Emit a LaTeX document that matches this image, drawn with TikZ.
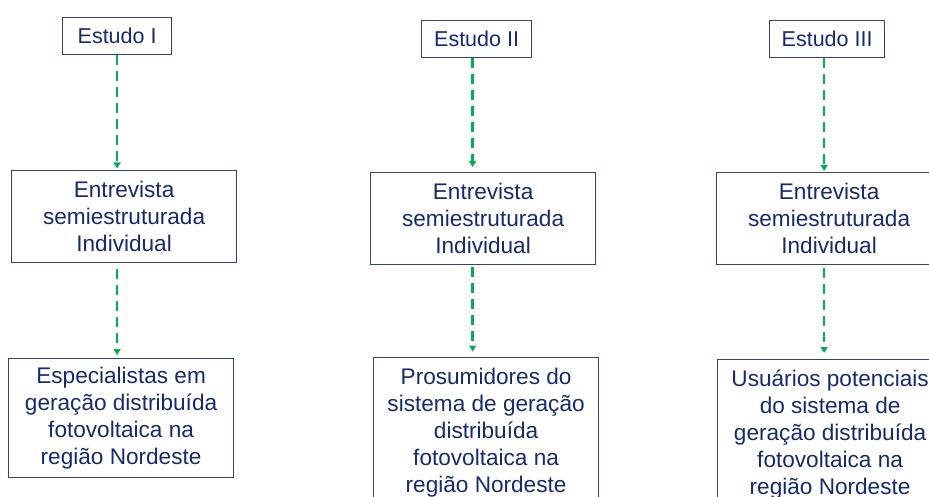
\documentclass[tikz,border=0pt]{standalone}
\usepackage{fontspec}
\setmainfont{Liberation Sans}
\usepackage{tikz}
\usetikzlibrary{arrows.meta}
\definecolor{azultexto}{RGB}{22,42,108}
\definecolor{azulborda}{RGB}{48,66,128}
\definecolor{verdeseta}{RGB}{0,176,80}

\begin{document}
\begin{tikzpicture}[x=1pt,y=-1pt,
    estudo/.style={draw=azulborda, line width=1.2pt, text=azultexto,
        anchor=north west, inner sep=0pt,
        font=\fontsize{21.5}{26}\selectfont},
    caixa/.style={draw=azulborda, line width=1.2pt, text=azultexto,
        anchor=north west, inner sep=0pt, align=center,
        minimum width=225pt, font=\fontsize{22.6}{27}\selectfont},
    seta/.style={verdeseta, line width=2.4pt, dash pattern=on 10pt off 6pt,
        -{Triangle[length=6pt,width=7pt]}}]
    \useasboundingbox (0,0) rectangle (929,497);
    \clip (0,0) rectangle (929,497);

    % estudos
    \node[estudo, minimum width=109pt, minimum height=37pt] (e1) at (62,17)  {Estudo I};
    \node[estudo, minimum width=110pt, minimum height=37pt] (e2) at (421,20) {Estudo II};
    \node[estudo, minimum width=115pt, minimum height=37pt] (e3) at (769,20) {Estudo III};

    % entrevistas
    \node[caixa, minimum height=92pt] (m1) at (11,170)  {Entrevista\\semiestruturada\\Individual};
    \node[caixa, minimum height=92pt] (m2) at (370,172) {Entrevista\\semiestruturada\\Individual};
    \node[caixa, minimum height=92pt] (m3) at (716,172) {Entrevista\\semiestruturada\\Individual};

    % participantes
    \node[caixa, minimum height=119pt] (b1) at (8,358)
        {Especialistas em\\geração distribuída\\fotovoltaica na\\região Nordeste};
    \node[caixa, minimum height=150pt] (b2) at (373,357)
        {Prosumidores do\\sistema de geração\\distribuída\\fotovoltaica na\\região Nordeste};
    \node[caixa, minimum height=150pt] (b3) at (717,359)
        {Usuários potenciais\\do sistema de\\geração distribuída\\fotovoltaica na\\região Nordeste};

    \draw[seta, shorten >=1.5pt] (e1.south) -- (e1.south |- m1.north);
    \draw[seta, shorten <=6pt, shorten >=3pt] (e1.south |- m1.south) -- (e1.south |- b1.north);
    \draw[seta, shorten >=5pt] ([xshift=-4pt]e2.south) -- ([xshift=-4pt]e2.south |- m2.north);
    \draw[seta, shorten <=2pt, shorten >=5.5pt] ([xshift=-4pt]e2.south |- m2.south) -- ([xshift=-4pt]e2.south |- b2.north);
    \draw[seta, shorten >=1pt] ([xshift=-3pt]e3.south) -- ([xshift=-3pt]e3.south |- m3.north);
    \draw[seta, shorten <=3pt, shorten >=6pt] ([xshift=-3pt]e3.south |- m3.south) -- ([xshift=-3pt]e3.south |- b3.north);

\end{tikzpicture}
\end{document}
